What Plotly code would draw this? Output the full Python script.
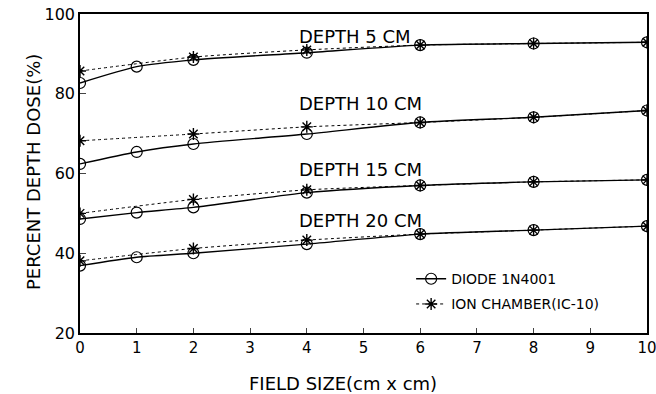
import plotly.graph_objects as go

field_diode = [0, 1, 2, 4, 6, 8, 10]
field_ion = [0, 2, 4, 6, 8, 10]

diode_5 = [82.7, 86.8, 88.5, 90.3, 92.2, 92.6, 92.9]
ion_5 = [85.7, 89.2, 91.0, 92.2, 92.6, 92.9]
diode_10 = [62.4, 65.4, 67.4, 69.9, 72.8, 74.1, 75.8]
ion_10 = [68.2, 69.9, 71.7, 72.8, 74.1, 75.8]
diode_15 = [48.6, 50.2, 51.5, 55.2, 57.0, 57.9, 58.4]
ion_15 = [50.0, 53.5, 55.9, 57.0, 57.9, 58.4]
diode_20 = [36.9, 39.0, 40.0, 42.3, 44.8, 45.8, 46.8]
ion_20 = [38.1, 41.2, 43.3, 44.8, 45.8, 46.8]

depth_labels = ["DEPTH 5 CM", "DEPTH 10 CM", "DEPTH 15 CM", "DEPTH 20 CM"]
label_y = [94.4, 77.6, 61.1, 48.1]
x_ticks = list(range(11))
y_ticks = [20, 40, 60, 80, 100]

FONT = "DejaVu Sans, Liberation Sans, sans-serif"
fig = go.Figure()

diodes = [diode_5, diode_10, diode_15, diode_20]
ions = [ion_5, ion_10, ion_15, ion_20]
for i, (d, s) in enumerate(zip(diodes, ions)):
    fig.add_trace(go.Scatter(
        x=field_ion, y=s, mode="lines+markers", name="ION CHAMBER(IC-10)",
        showlegend=(i == 0), legendrank=2, legendgroup="ion",
        line=dict(color="black", width=1, dash="dot", shape="spline", smoothing=0.6),
        marker=dict(symbol="asterisk-open", size=10, color="black", line=dict(width=1.4, color="black"))))
    fig.add_trace(go.Scatter(
        x=field_diode, y=d, mode="lines+markers", name="DIODE 1N4001",
        showlegend=(i == 0), legendrank=1, legendgroup="diode",
        line=dict(color="black", width=1.4, shape="spline", smoothing=0.6),
        marker=dict(symbol="circle-open", size=11, color="black", line=dict(width=1.2, color="black"))))

for t, yv in zip(depth_labels, label_y):
    fig.add_annotation(x=3.83, y=yv, text=t, showarrow=False, xanchor="left",
                       font=dict(family=FONT, size=18, color="black"))

# axis titles placed as annotations
fig.add_annotation(xref="paper", yref="paper", x=(343 - 80) / 567, y=-(383 - 333) / 319,
                   text="FIELD SIZE(cm x cm)", showarrow=False, xanchor="center", yanchor="middle",
                   font=dict(family=FONT, size=18, color="black"))
fig.add_annotation(xref="paper", yref="paper", x=-(80 - 33) / 567, y=(333 - 172) / 319,
                   text="PERCENT DEPTH DOSE(%)", showarrow=False, textangle=-90,
                   xanchor="center", yanchor="middle",
                   font=dict(family=FONT, size=18, color="black"))

fig.update_layout(
    width=656, height=394,
    margin=dict(l=80, r=9, t=14, b=61, autoexpand=False),
    paper_bgcolor="white", plot_bgcolor="white",
    font=dict(family=FONT, size=15, color="black"),
    legend=dict(x=0.584, y=0.219, xanchor="left", yanchor="top",
                bgcolor="rgba(0,0,0,0)", font=dict(size=14), tracegroupgap=4,
                itemwidth=30),
    xaxis=dict(range=[0, 10], tickvals=x_ticks, ticks="inside", ticklen=5,
               showline=True, mirror=True, linecolor="black", linewidth=1.5,
               showgrid=False, zeroline=False, ticklabeloverflow="allow",
               automargin=False, tickfont=dict(size=15)),
    yaxis=dict(range=[20, 100], tickvals=y_ticks, ticks="inside", ticklen=6,
               showline=True, mirror=True, linecolor="black", linewidth=1.5,
               showgrid=False, zeroline=False, automargin=False, tickfont=dict(size=16)),
)

fig.write_html("out.html", config={"displayModeBar": False},
               post_script="document.body.style.margin='0px';document.body.style.overflow='hidden';")
